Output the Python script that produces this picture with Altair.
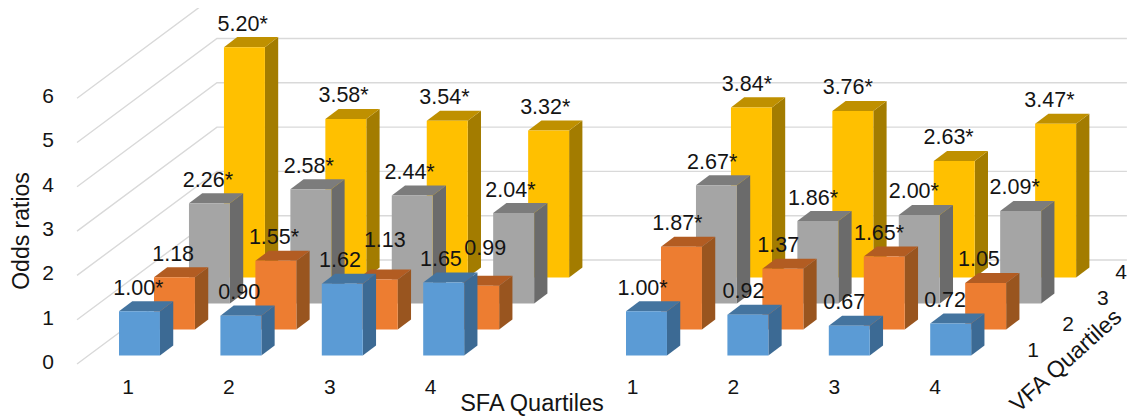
import altair as alt
import pandas as pd

# ---- values ----
categories = [1, 2, 3, 4]
depth_labels = [1, 2, 3, 4]
y_ticks = [0, 1, 2, 3, 4, 5, 6]

sfa_blue = [1.00, 0.90, 1.62, 1.65]
sfa_orange = [1.18, 1.55, 1.13, 0.99]
sfa_gray = [2.26, 2.58, 2.44, 2.04]
sfa_yellow = [5.20, 3.58, 3.54, 3.32]

vfa_blue = [1.00, 0.92, 0.67, 0.72]
vfa_orange = [1.87, 1.37, 1.65, 1.05]
vfa_gray = [2.67, 1.86, 2.00, 2.09]
vfa_yellow = [3.84, 3.76, 2.63, 3.47]

sfa_blue_star = ["*", "", "", ""]
sfa_orange_star = ["", "*", "", ""]
sfa_gray_star = ["*", "*", "*", "*"]
sfa_yellow_star = ["*", "*", "*", "*"]
vfa_blue_star = ["*", "", "", ""]
vfa_orange_star = ["*", "", "*", ""]
vfa_gray_star = ["*", "*", "*", "*"]
vfa_yellow_star = ["*", "*", "*", "*"]

# ---- projection of the 3-D look, in axis units ----
CAT_PX, VAL_PX = 101.4, 44.3
ROW_DX, ROW_DY = 0.345, 0.587
BAR_W = 0.404
SIDE_DX, SIDE_DY = 0.131, 0.226
PANEL_GAP = 5
FONT = "Liberation Sans"
INK = "#141414"

rows = [
    (0, "#5b9bd5", "#3c6a94", "#44749f",
     [(sfa_blue, sfa_blue_star, 0), (vfa_blue, vfa_blue_star, PANEL_GAP)]),
    (1, "#ed7d31", "#99551f", "#b25c22",
     [(sfa_orange, sfa_orange_star, 0), (vfa_orange, vfa_orange_star, PANEL_GAP)]),
    (2, "#a5a5a5", "#6b6b6b", "#7c7c7c",
     [(sfa_gray, sfa_gray_star, 0), (vfa_gray, vfa_gray_star, PANEL_GAP)]),
    (3, "#ffc000", "#a37c00", "#bf9000",
     [(sfa_yellow, sfa_yellow_star, 0), (vfa_yellow, vfa_yellow_star, PANEL_GAP)]),
]

# hand-moved data labels: (panel start, row, category index) -> px nudge
nudges = {
    (0, 1, 2): (10, -16),
    (0, 1, 3): (9.5, -14),
    (PANEL_GAP, 1, 3): (-1, 0),
}

x_scale = alt.Scale(domain=[(8 - 119) / CAT_PX, (1129 - 119) / CAT_PX], nice=False, zero=False)
y_scale = alt.Scale(domain=[(355.5 - 418) / VAL_PX, (355.5 - 8) / VAL_PX], nice=False, zero=False)
X = lambda f: alt.X(f, type="quantitative", scale=x_scale, axis=None)
Y = lambda f: alt.Y(f, type="quantitative", scale=y_scale, axis=None)
X2 = lambda f: alt.X2(f)
Y2 = lambda f: alt.Y2(f)

layers = []

# floor / wall gridlines
grid = []
for v in y_ticks:
    for p, (gx, gy) in enumerate([(-0.414, -0.192), (0.966, 2.156), (9.94, 2.156)]):
        grid.append({"v": v, "p": p, "x": gx, "y": gy + v})
layers.append(
    alt.Chart(pd.DataFrame(grid)).mark_line(color="#d9d9d9", strokeWidth=1.4, clip=True).encode(
        x=X("x"), y=Y("y"), detail="v:N", order="p:Q"
    )
)

labels = []
for row, front, side, top, panels in sorted(rows, key=lambda r: -r[0]):
    fronts, sides, tops = [], [], []
    for values, stars, start in panels:
        for i, val in enumerate(values):
            x0 = start + i + row * ROW_DX
            base = row * ROW_DY
            h = base + val
            x1 = x0 + BAR_W
            bid = f"{start}-{i}"
            fronts.append({"x": x0, "x2": x1, "y": base, "y2": h})
            sides.append({"id": bid, "x": x1, "y": base, "y2": h})
            sides.append({"id": bid, "x": x1 + SIDE_DX, "y": base + SIDE_DY, "y2": h + SIDE_DY})
            tops.append({"id": bid, "y": h, "x": x0, "x2": x1})
            tops.append({"id": bid, "y": h + SIDE_DY, "x": x0 + SIDE_DX, "x2": x1 + SIDE_DX})
            ndx, ndy = nudges.get((start, row, i), (0, 0))
            labels.append({
                "x": (x0 + BAR_W / 2) * 0.9945 - 0.01 + ndx / CAT_PX,
                "y": h + (22.5 - ndy) / VAL_PX,
                "t": f"{val:.2f}{stars[i]}",
            })
    layers.append(
        alt.Chart(pd.DataFrame(sides)).mark_area(color=side, interpolate="linear").encode(
            x=X("x"), y=Y("y"), y2=Y2("y2"), detail="id:N"
        )
    )
    layers.append(
        alt.Chart(pd.DataFrame(tops)).mark_area(color=top, orient="horizontal", interpolate="linear").encode(
            y=Y("y"), x=X("x"), x2=X2("x2"), detail="id:N"
        )
    )
    layers.append(
        alt.Chart(pd.DataFrame(fronts)).mark_rect(color=front).encode(
            x=X("x"), x2=X2("x2"), y=Y("y"), y2=Y2("y2")
        )
    )

text_kw = dict(font=FONT, color=INK, align="center", baseline="middle")

layers.append(
    alt.Chart(pd.DataFrame(labels)).mark_text(fontSize=21.5, **text_kw).encode(
        x=X("x"), y=Y("y"), text="t:N"
    )
)

# value-axis labels
ytext = pd.DataFrame({"x": [(48 - 119) / CAT_PX] * len(y_ticks),
                      "y": [v - 0.165 for v in y_ticks],
                      "t": [str(v) for v in y_ticks]})
layers.append(alt.Chart(ytext).mark_text(fontSize=21, **text_kw).encode(x=X("x"), y=Y("y"), text="t:N"))

# category labels, both panels
cat_rows = []
for start in (0, PANEL_GAP):
    for i, c in enumerate(categories):
        cat_rows.append({"x": (128 - 119 + 100.9 * (start + i)) / CAT_PX,
                         "y": (355.5 - 388) / VAL_PX, "t": str(c)})
layers.append(alt.Chart(pd.DataFrame(cat_rows)).mark_text(fontSize=21, **text_kw).encode(x=X("x"), y=Y("y"), text="t:N"))

# depth labels (the last is held just inside the picture's right edge)
d_rows = []
for r, d in enumerate(depth_labels):
    d_rows.append({"x": min((1033 - 119) / CAT_PX + r * ROW_DX, (1121 - 119) / CAT_PX),
                   "y": (355.5 - 351) / VAL_PX + r * ROW_DY, "t": str(d)})
layers.append(alt.Chart(pd.DataFrame(d_rows)).mark_text(fontSize=21, **text_kw).encode(x=X("x"), y=Y("y"), text="t:N"))

# axis titles
titles = [
    ("Odds ratios", 22, 231, 270, 23),
    ("SFA Quartiles", 532, 404, 0, 23.5),
    ("VFA Quartiles", 1066, 361, 318, 23),
]
for t, px, py, ang, size in titles:
    layers.append(
        alt.Chart(pd.DataFrame({"x": [(px - 119) / CAT_PX], "y": [(355.5 - py) / VAL_PX], "t": [t]}))
        .mark_text(fontSize=size, angle=ang, **text_kw)
        .encode(x=X("x"), y=Y("y"), text="t:N")
    )

chart = (
    alt.layer(*layers)
    .properties(width=1121, height=410, padding=0, autosize=alt.AutoSizeParams(type="none"))
    .configure_view(stroke=None)
)

chart.save("out.html", embed_options={"renderer": "svg", "actions": False})
